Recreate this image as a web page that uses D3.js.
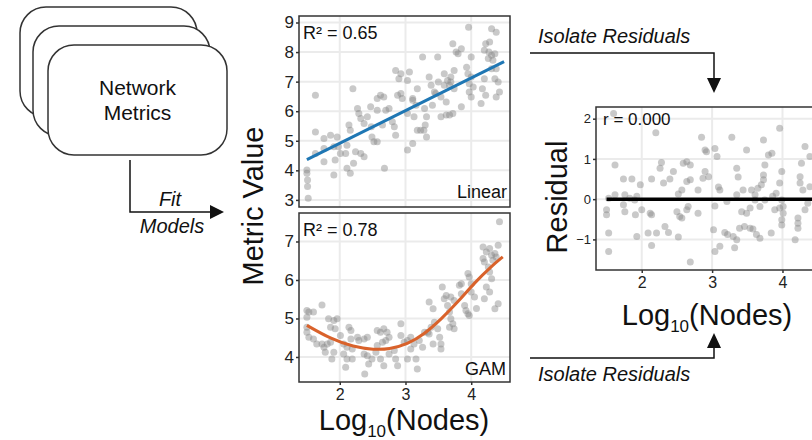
<!DOCTYPE html>
<html>
<head>
<meta charset="utf-8">
<script src="https://cdn.jsdelivr.net/npm/d3@7"></script>
<style>
  body { margin: 0; background: #fff; }
  svg { display: block; font-family: "Liberation Sans", Arial, sans-serif; }
</style>
</head>
<body>
<script>
'use strict';

// scatter points [log10 nodes, metric value] for the linear panel
let linearPts = [
  [1.50, 4.01], [1.50, 3.90], [1.51, 3.67], [1.51, 3.45], [1.52, 3.06],
  [1.63, 6.54], [1.63, 5.30], [1.63, 4.57], [1.76, 5.08], [1.76, 4.74], [1.76, 4.29],
  [1.86, 5.19], [1.91, 4.80], [1.93, 4.35], [1.91, 3.84], [1.96, 5.13], [1.98, 4.80],
  [2.01, 4.57], [2.09, 4.57], [2.11, 4.85], [2.14, 5.53], [2.16, 5.36], [2.11, 4.07],
  [2.16, 3.90], [2.21, 4.24], [2.20, 6.76], [2.27, 6.09], [2.29, 5.92], [2.32, 5.75],
  [2.37, 5.58], [2.42, 5.81], [2.32, 4.57], [2.37, 4.46], [2.24, 4.63], [2.47, 6.15],
  [2.49, 5.13], [2.52, 4.97], [2.57, 4.97], [2.57, 6.43], [2.62, 6.54], [2.67, 6.48],
  [2.57, 6.03], [2.65, 5.53], [2.70, 6.03], [2.75, 6.09], [2.83, 5.47], [2.85, 5.19],
  [2.80, 5.64], [2.68, 4.07], [2.88, 6.54], [2.93, 6.60], [2.90, 7.10], [2.93, 7.27],
  [2.85, 7.38], [3.06, 7.33], [3.03, 7.04], [3.03, 5.92], [3.11, 6.37], [3.16, 6.20],
  [3.13, 5.81], [3.11, 6.43], [3.03, 4.69], [3.11, 4.91], [3.18, 5.36], [3.23, 5.36],
  [3.28, 5.36], [3.32, 5.13], [3.30, 5.53], [3.32, 5.81], [3.18, 6.76], [3.26, 7.83],
  [3.36, 7.16], [3.39, 6.88], [3.44, 6.65], [3.41, 6.20], [3.29, 6.09], [3.49, 7.83],
  [3.54, 6.48], [3.59, 6.88], [3.62, 6.31], [3.67, 6.88], [3.69, 7.16], [3.54, 5.81],
  [3.62, 5.87], [3.67, 5.87], [3.72, 5.92], [3.74, 7.38], [3.72, 8.28], [3.77, 8.00],
  [3.80, 7.94], [3.85, 8.11], [3.85, 6.15], [3.93, 7.49], [3.95, 7.27], [4.00, 7.83],
  [3.97, 6.93], [4.00, 6.48], [3.97, 6.65], [4.03, 6.82], [4.00, 7.16], [3.96, 8.84],
  [4.15, 6.26], [4.17, 6.76], [4.20, 7.10], [4.22, 6.54], [4.20, 8.06], [4.22, 8.28],
  [4.26, 7.78], [4.28, 8.34], [4.31, 8.79], [4.38, 8.67], [4.33, 7.72], [4.36, 7.10],
  [4.38, 6.48], [4.41, 6.99], [4.43, 6.65], [4.38, 7.44], [4.31, 7.44], [4.36, 7.94],
  [4.31, 7.89], [4.27, 8.00], [3.59, 7.27], [3.64, 7.04], [3.69, 6.99], [3.74, 6.76],
  [3.46, 6.60], [3.50, 6.99], [2.95, 6.43], [2.48, 5.47]
];

// scatter points for the GAM panel
let gamPts = [
  [1.50, 5.21], [1.53, 5.17], [1.50, 5.03], [1.60, 5.17], [1.73, 5.35], [1.50, 4.77],
  [1.50, 4.64], [1.53, 4.51], [1.60, 4.47], [1.65, 4.34], [1.83, 4.99], [1.91, 4.95],
  [1.96, 4.99], [1.86, 4.77], [1.93, 4.73], [1.73, 4.34], [1.76, 4.25], [1.81, 4.34],
  [1.86, 4.38], [1.91, 4.12], [1.88, 3.95], [1.78, 4.12], [2.01, 4.56], [2.06, 4.34],
  [2.11, 4.25], [2.17, 4.47], [2.19, 4.21], [2.06, 4.08], [2.11, 3.95], [2.19, 3.95],
  [2.09, 3.73], [2.14, 4.77], [2.17, 4.69], [2.27, 4.51], [2.29, 4.43], [2.37, 4.47],
  [2.42, 4.51], [2.37, 4.08], [2.42, 4.03], [2.38, 3.56], [2.44, 3.82], [2.49, 3.95],
  [2.57, 4.69], [2.62, 4.64], [2.67, 4.73], [2.72, 4.64], [2.75, 4.51], [2.57, 4.30],
  [2.65, 4.38], [2.70, 4.43], [2.55, 4.12], [2.62, 3.95], [2.67, 3.77], [2.75, 4.08],
  [2.83, 4.17], [2.85, 3.95], [2.88, 3.77], [2.93, 4.86], [2.93, 4.56], [2.98, 4.38],
  [3.03, 4.43], [3.08, 4.51], [3.03, 3.95], [3.08, 4.21], [3.13, 4.34], [3.16, 3.95],
  [3.18, 3.69], [3.21, 4.43], [3.26, 4.25], [3.29, 4.64], [3.34, 4.64], [3.36, 4.60],
  [3.39, 4.77], [3.42, 4.34], [3.36, 5.43], [3.42, 5.25], [3.44, 4.90], [3.49, 4.73],
  [3.52, 4.51], [3.54, 4.34], [3.54, 4.21], [3.56, 5.82], [3.59, 5.51], [3.62, 5.60],
  [3.64, 5.34], [3.67, 5.17], [3.69, 4.99], [3.67, 4.77], [3.72, 4.86], [3.74, 4.73],
  [3.69, 5.56], [3.74, 5.47], [3.82, 5.86], [3.85, 5.90], [3.85, 5.64], [3.90, 5.34],
  [3.92, 5.21], [3.95, 5.12], [3.97, 5.08], [3.95, 6.17], [3.97, 6.08], [4.00, 5.90],
  [4.00, 5.69], [4.05, 5.56], [4.08, 5.26], [4.18, 6.86], [4.23, 6.73], [4.28, 6.82],
  [4.31, 6.64], [4.33, 6.51], [4.36, 6.69], [4.38, 6.60], [4.41, 6.90], [4.43, 7.51],
  [4.18, 6.56], [4.20, 6.47], [4.26, 6.34], [4.28, 6.21], [4.31, 6.03], [4.23, 5.82],
  [4.28, 5.69], [4.41, 5.38], [4.36, 5.25], [4.20, 5.51]
];

// residual points
let residPts = [
  [1.60, 2.13], [1.62, 0.85], [1.74, 0.50], [1.86, 0.50], [1.98, 0.36], [1.93, 0.07],
  [1.90, -0.02], [1.83, 0.02], [1.76, 0.11], [1.62, 0.11], [1.53, 0.02], [1.50, -0.26],
  [1.50, -0.39], [1.53, -0.84], [1.53, -1.30], [1.74, -0.14], [1.76, -0.31], [1.91, -0.39],
  [2.00, -0.26], [2.12, -0.35], [2.14, -0.39], [1.93, -0.93], [2.09, -0.84], [2.21, -0.84],
  [2.14, -1.15], [2.20, 1.65], [2.14, 0.50], [2.28, 0.91], [2.26, 0.77], [2.31, 0.40],
  [2.40, 0.50], [2.45, 0.69], [2.52, 0.13], [2.57, 0.23], [2.50, -0.31], [2.54, -0.43],
  [2.57, -0.47], [2.64, -0.26], [2.66, -0.18], [2.33, -0.68], [2.38, -0.83], [2.52, -0.94],
  [2.64, 0.93], [2.59, 0.89], [2.69, 0.85], [2.64, 0.44], [2.69, 0.48], [2.69, -1.56],
  [2.85, 1.54], [2.90, 1.22], [2.92, 1.18], [3.04, 1.26], [3.07, 1.06], [2.90, 0.69],
  [2.95, 0.56], [2.87, 0.52], [2.80, 0.23], [2.80, -0.35], [3.04, -0.17], [3.09, 0.30],
  [3.11, 0.23], [3.02, -0.76], [3.04, -1.30], [3.11, -1.17], [3.18, -0.83], [3.22, -0.88],
  [3.30, -0.93], [3.35, -1.01], [3.32, -1.21], [3.28, 1.54], [3.35, 0.77], [3.37, 0.55],
  [3.21, -0.06], [3.35, 0.11], [3.44, 0.23], [3.49, 1.22], [3.39, -0.72], [3.46, -0.68],
  [3.54, -0.72], [3.58, -0.74], [3.63, -0.88], [3.68, -0.97], [3.42, -0.31], [3.49, -0.35],
  [3.54, -0.22], [3.61, -0.02], [3.68, -0.18], [3.65, 0.27], [3.70, 0.36], [3.73, 0.48],
  [3.73, 0.60], [3.75, 0.85], [3.80, 1.10], [3.85, 1.14], [3.73, 1.47], [3.56, 0.23],
  [3.61, 0.11], [3.75, -0.02], [3.84, -0.84], [3.96, 0.40], [3.96, 1.76], [3.99, 0.69],
  [3.99, -0.02], [4.01, -0.18], [4.01, -0.35], [3.99, -0.51], [3.99, -0.64], [3.96, -0.22],
  [4.18, -1.01], [4.22, -0.47], [4.22, -0.60], [4.22, -0.72], [4.25, 0.56], [4.25, 0.40],
  [4.27, 0.89], [4.32, 1.31], [4.29, 0.23], [4.32, -0.26], [4.36, -0.10], [4.39, 0.31],
  [4.39, 1.06], [3.86, 0.07], [3.91, 0.15], [3.89, -0.26]
];

// fitted curves
let linearFit = [[1.50, 4.36], [4.50, 7.68]];
let gamFit = [
  [1.50, 4.82], [1.86, 4.47], [2.21, 4.26], [2.52, 4.19], [2.75, 4.20], [3.03, 4.33],
  [3.29, 4.60], [3.54, 4.98], [3.80, 5.43], [4.05, 5.93], [4.31, 6.36], [4.48, 6.60]
];
let residFit = [[1.50, 0], [4.50, 0]];

// tick values
let xTicks = [2, 3, 4];
let linearYTicks = [3, 4, 5, 6, 7, 8, 9];
let gamYTicks = [4, 5, 6, 7];
let residYTicks = [-1, 0, 1, 2];

let svg = d3.select("body").append("svg")
  .attr("width", 812)
  .attr("height", 440);

// scales for the three panels
let xMain = d3.scaleLinear().domain([1.38, 4.59]).range([299, 510]);
let yLinear = d3.scaleLinear().domain([2.76, 9.22]).range([207, 16]);
let yGam = d3.scaleLinear().domain([3.35, 7.74]).range([382, 213]);
let xResid = d3.scaleLinear().domain([1.35, 4.59]).range([596, 824]);
let yResid = d3.scaleLinear().domain([-1.76, 2.29]).range([270, 107]);

// draws one panel: grid, points, fit, frame
function drawPanel(xs, ys, pts, fit, yTicks, opts) {
  let [x0, x1] = xs.range();
  let [y1, y0] = ys.range();
  let g = svg.append("g");

  g.append("rect")
    .attr("x", x0).attr("y", y0)
    .attr("width", x1 - x0).attr("height", y1 - y0)
    .attr("fill", "#fff");

  // gridlines
  g.selectAll(".vgrid").data(xTicks).enter().append("line")
    .attr("x1", d => xs(d)).attr("x2", d => xs(d))
    .attr("y1", y0).attr("y2", y1)
    .attr("stroke", "#ebebeb").attr("stroke-width", 2);
  g.selectAll(".hgrid").data(yTicks).enter().append("line")
    .attr("x1", x0).attr("x2", x1)
    .attr("y1", d => ys(d)).attr("y2", d => ys(d))
    .attr("stroke", "#ebebeb").attr("stroke-width", 2);

  // points
  g.selectAll("circle").data(pts).enter().append("circle")
    .attr("cx", d => xs(d[0]))
    .attr("cy", d => ys(d[1]))
    .attr("r", 3.5)
    .attr("fill", "#888")
    .attr("fill-opacity", 0.45);

  // fitted line
  let line = d3.line()
    .x(d => xs(d[0]))
    .y(d => ys(d[1]))
    .curve(d3.curveBasis);
  g.append("path")
    .datum(fit)
    .attr("d", line)
    .attr("fill", "none")
    .attr("stroke", opts.color)
    .attr("stroke-width", opts.lineWidth);

  // frame
  g.append("rect")
    .attr("x", x0).attr("y", y0)
    .attr("width", x1 - x0).attr("height", y1 - y0)
    .attr("fill", "none")
    .attr("stroke", "#333")
    .attr("stroke-width", 1.5);

  // y axis
  let yAxis = d3.axisLeft(ys).tickValues(yTicks).tickSize(3).tickPadding(2)
    .tickFormat(d => d < 0 ? "\u2212" + Math.abs(d) : d);
  let ya = svg.append("g")
    .attr("transform", "translate(" + x0 + ",0)")
    .call(yAxis);
  ya.select(".domain").remove();
  ya.selectAll("line").attr("stroke", "#333").attr("stroke-width", 1.5);
  ya.selectAll("text")
    .attr("fill", "#222")
    .style("font-size", opts.yFont + "px")
    .style("font-family", "Liberation Sans, Arial, sans-serif");

  // x axis
  if (opts.xAxis) {
    let xAxis = d3.axisBottom(xs).tickValues(xTicks).tickSize(3).tickPadding(4)
      .tickFormat(d3.format("d"));
    let xa = svg.append("g")
      .attr("transform", "translate(0," + y1 + ")")
      .call(xAxis);
    xa.select(".domain").remove();
    xa.selectAll("line").attr("stroke", "#333").attr("stroke-width", 1.5);
    xa.selectAll("text")
      .attr("fill", "#222")
      .style("font-size", "16px")
      .style("font-family", "Liberation Sans, Arial, sans-serif");
  }
}

drawPanel(xMain, yLinear, linearPts, linearFit, linearYTicks,
  { color: "#1f77b4", lineWidth: 3, yFont: 17, xAxis: false });
drawPanel(xMain, yGam, gamPts, gamFit, gamYTicks,
  { color: "#d9622b", lineWidth: 3, yFont: 17, xAxis: true });
drawPanel(xResid, yResid, residPts, residFit, residYTicks,
  { color: "#000", lineWidth: 3.5, yFont: 13, xAxis: true });

// panel annotations
function label(x, y, txt, size, anchor, italic) {
  return svg.append("text")
    .attr("x", x).attr("y", y)
    .attr("text-anchor", anchor || "start")
    .style("font-size", size + "px")
    .style("font-style", italic ? "italic" : "normal")
    .attr("fill", "#111")
    .text(txt);
}
label(303, 39, "R\u00b2 = 0.65", 18);
label(507, 198, "Linear", 18, "end");
label(303, 236, "R\u00b2 = 0.78", 18);
label(506, 375, "GAM", 18, "end");
label(603, 125, "r = 0.000", 17);

// axis titles with subscripts
function logTitle(x, y) {
  let t = svg.append("text")
    .attr("x", x).attr("y", y)
    .attr("text-anchor", "middle")
    .style("font-size", "29px")
    .attr("fill", "#111");
  t.append("tspan").text("Log");
  t.append("tspan").attr("dy", 7).style("font-size", "17px").text("10");
  t.append("tspan").attr("dy", -7).text("(Nodes)");
}
logTitle(404, 430);
logTitle(707, 325);

svg.append("text")
  .attr("transform", "translate(263,206) rotate(-90)")
  .attr("text-anchor", "middle")
  .style("font-size", "29px")
  .attr("fill", "#111")
  .text("Metric Value");

svg.append("text")
  .attr("transform", "translate(567,197) rotate(-90)")
  .attr("text-anchor", "middle")
  .style("font-size", "29px")
  .attr("fill", "#111")
  .text("Residual");

// stacked boxes
let boxes = [
  { x: 20, y: 7, w: 177, h: 110 },
  { x: 33, y: 26, w: 177, h: 110 },
  { x: 48, y: 45, w: 179, h: 110 }
];
svg.selectAll(".box").data(boxes).enter().append("rect")
  .attr("x", d => d.x).attr("y", d => d.y)
  .attr("width", d => d.w).attr("height", d => d.h)
  .attr("rx", 26).attr("ry", 26)
  .attr("fill", "#fff")
  .attr("stroke", "#333")
  .attr("stroke-width", 1.5);
label(137.5, 95, "Network", 21, "middle");
label(137.5, 120, "Metrics", 21, "middle");

// arrows
function arrow(points, tip, dir) {
  svg.append("path")
    .attr("d", d3.line()(points))
    .attr("fill", "none")
    .attr("stroke", "#111")
    .attr("stroke-width", 1.5);
  let [tx, ty] = tip;
  let tri;
  if (dir == "right") tri = [[tx, ty], [tx - 14, ty - 7], [tx - 14, ty + 7]];
  if (dir == "down") tri = [[tx, ty], [tx - 7, ty - 15], [tx + 7, ty - 15]];
  if (dir == "up") tri = [[tx, ty], [tx - 7, ty + 15], [tx + 7, ty + 15]];
  svg.append("path")
    .attr("d", d3.line()(tri) + "Z")
    .attr("fill", "#111");
}
arrow([[130, 160], [130, 212], [212, 212]], [224, 212], "right");
label(170, 206, "Fit", 20, "middle", true);
label(172, 233, "Models", 20, "middle", true);

arrow([[530, 53], [714, 53], [714, 80]], [714, 93], "down");
label(538, 43, "Isolate Residuals", 20, "start", true);

arrow([[530, 358], [714, 358], [714, 346]], [714, 333], "up");
label(538, 381, "Isolate Residuals", 20, "start", true);
</script>
</body>
</html>
